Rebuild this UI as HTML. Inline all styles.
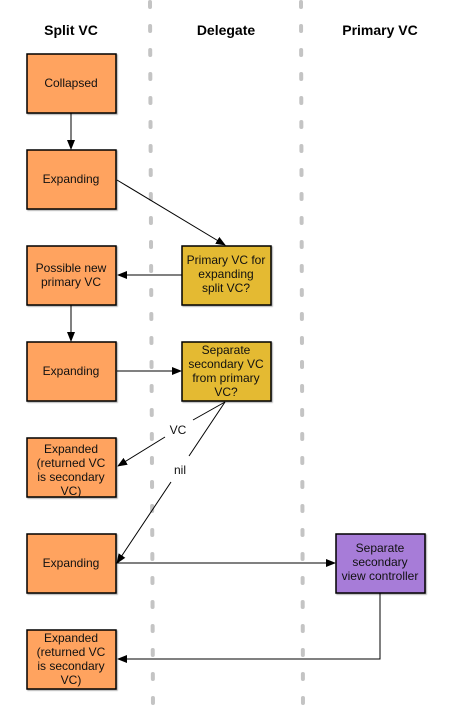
<!DOCTYPE html><html><head><style>body{margin:0;background:#fff}</style></head><body>
<svg width="450" height="710" xmlns="http://www.w3.org/2000/svg" font-family="Liberation Sans, Arial, sans-serif">
<defs><marker id="a" markerWidth="10" markerHeight="8" refX="9" refY="4" orient="auto" markerUnits="userSpaceOnUse"><path d="M0,0L10,4L0,8z" fill="#000"/></marker>
<filter id="s"><feDropShadow dx="1" dy="1" stdDeviation="0.6" flood-opacity="0.35"/></filter></defs>
<g stroke="#c4c4c4" stroke-width="4" stroke-linecap="round" stroke-dasharray="5 19">
<line x1="150" y1="2" x2="153" y2="710"/><line x1="301" y1="2" x2="303" y2="710"/></g>
<g font-weight="bold" font-size="14" text-anchor="middle"><text x="71" y="35">Split VC</text><text x="226" y="35">Delegate</text><text x="380" y="35">Primary VC</text></g>
<g stroke="#000" stroke-width="1.5" filter="url(#s)">
<g fill="#FFA35E"><rect x="27" y="54" width="89" height="59"/><rect x="27" y="150" width="89" height="59"/><rect x="27" y="246" width="89" height="59"/><rect x="27" y="342" width="89" height="59"/><rect x="27" y="438" width="89" height="59"/><rect x="27" y="534" width="89" height="59"/><rect x="27" y="630" width="89" height="59"/></g>
<g fill="#E4BA33"><rect x="182" y="246" width="89" height="59"/><rect x="182" y="342" width="89" height="59"/></g>
<rect x="336" y="534" width="89" height="59" fill="#A77BD8"/></g>
<g stroke="#000" stroke-width="1" fill="none" marker-end="url(#a)">
<line x1="71" y1="113" x2="71" y2="149"/><line x1="117" y1="180" x2="225" y2="245"/><line x1="182" y1="275" x2="118" y2="275"/>
<line x1="71" y1="305" x2="71" y2="341"/><line x1="117" y1="371" x2="181" y2="371"/>
<line x1="165" y1="437" x2="118" y2="466"/><line x1="171" y1="482" x2="117" y2="563"/>
<line x1="117" y1="563" x2="335" y2="563"/><path d="M380,593V659H118"/></g>
<g stroke="#000" stroke-width="1" fill="none"><line x1="225" y1="402" x2="193" y2="420"/><line x1="225" y1="402" x2="189" y2="456"/></g>
<g font-size="12" text-anchor="middle" fill="#111">
<text x="71" y="87">Collapsed</text><text x="71" y="183">Expanding</text>
<text x="71" y="272">Possible new</text><text x="71" y="286">primary VC</text>
<text x="71" y="375">Expanding</text>
<text x="71" y="453">Expanded</text><text x="71" y="467">(returned VC</text><text x="71" y="481">is secondary</text><text x="71" y="495">VC)</text>
<text x="71" y="567">Expanding</text>
<text x="71" y="642">Expanded</text><text x="71" y="656">(returned VC</text><text x="71" y="670">is secondary</text><text x="71" y="684">VC)</text>
<text x="226" y="264">Primary VC for</text><text x="226" y="278">expanding</text><text x="226" y="292">split VC?</text>
<text x="226" y="354">Separate</text><text x="226" y="368">secondary VC</text><text x="226" y="382">from primary</text><text x="226" y="396">VC?</text>
<text x="380" y="552">Separate</text><text x="380" y="566">secondary</text><text x="380" y="580">view controller</text>
<text x="178" y="434">VC</text><text x="180" y="474">nil</text></g>
</svg></body></html>
